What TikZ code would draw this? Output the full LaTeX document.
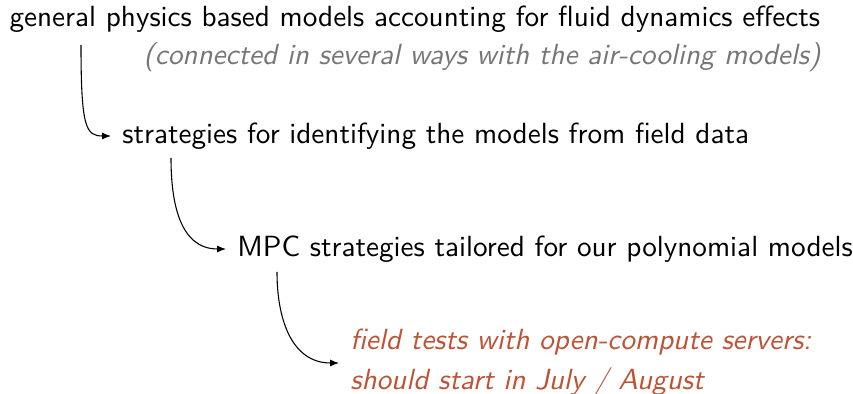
\documentclass[tikz,border=0pt]{standalone}
\usetikzlibrary{arrows.meta}
\definecolor{notegray}{RGB}{118,118,118}
\definecolor{planred}{RGB}{190,82,52}
\begin{document}
\begin{tikzpicture}[x=0.37pt,y=-0.37pt,
    every node/.style={font=\sffamily\fontsize{10.8}{14.8}\selectfont, inner ysep=0pt},
    item/.style={anchor=west, inner xsep=4pt},
    note/.style={anchor=base west, inner sep=0pt, text=notegray, font=\sffamily\itshape\fontsize{10.8}{14.8}\selectfont},
    plan/.style={item, align=left, text=planred, font=\sffamily\itshape\fontsize{10.8}{14.8}\selectfont},
    link/.style={draw=black, line width=0.4pt, -{Latex[length=3.3pt,width=2.6pt]}}]
  \useasboundingbox (0,0) rectangle (853,394);

  % items, each one indented further than the last
  \node[anchor=base west, inner sep=0pt] (l1) at (9,27)
    {general physics based models accounting for fluid dynamics effects};
  \node[note] (l2) at (143,65)
    {(connected in several ways with the air-cooling models)};
  \node[item] (l3) at (111,136)
    {strategies for identifying the models from field data};
  \node[item] (l4) at (226,249)
    {MPC strategies tailored for our polynomial models};
  \node[plan] (l5) at (339,363)
    {field tests with open-compute servers:\\should start in July / August};

  % start points of the connectors, below each item
  \coordinate (s1) at (81,45);
  \coordinate (s2) at (171,158);
  \coordinate (s3) at (277,272);

  \draw[link] (s1) .. controls (81,128) and (86,136) .. (l3.west);
  \draw[link] (s2) to[out=-90,in=180,looseness=1.1] (l4.west);
  \draw[link] (s3) to[out=-90,in=180,looseness=1.1] (l5.west);
\end{tikzpicture}
\end{document}
